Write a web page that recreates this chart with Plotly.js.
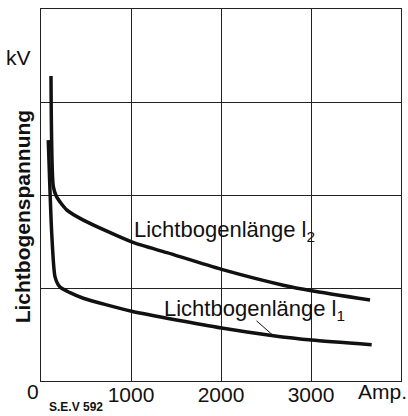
<!DOCTYPE html>
<html>
<head>
<meta charset="utf-8">
<script src="https://cdn.plot.ly/plotly-3.0.1.min.js"></script>
<style>html,body{margin:0;padding:0;background:#fff;}#chart{width:408px;height:416px;}</style>
</head>
<body>
<div id="chart"></div>
<script>
// Current (A) and arc voltage (relative kV units, grid = 1 unit)
const l2Current = [111, 137, 174, 285, 470, 1022, 1400, 2007, 2692, 3007, 3656];
const l2Voltage = [3.28, 2.09, 1.98, 1.84, 1.73, 1.49, 1.38, 1.20, 1.03, 0.97, 0.87];
const l1Current = [81, 119, 156, 211, 322, 470, 1007, 2007, 2563, 3007, 3674];
const l1Voltage = [2.59, 1.59, 1.12, 1.01, 0.95, 0.89, 0.75, 0.57, 0.49, 0.44, 0.39];
const xTickVals = [1000, 2000, 3000];
const xTickText = ["1000", "2000", "3000"];
const labelL2 = "Lichtbogenlänge l<sub>2</sub>";
const labelL1 = "Lichtbogenlänge l<sub>1</sub>";
const yTitle = "Lichtbogenspannung";

const font = "Liberation Sans, Arial, sans-serif";
const traces = [
  {x: l2Current, y: l2Voltage, mode: "lines", line: {color: "#111", width: 3.5, shape: "spline", smoothing: 0.6}, hoverinfo: "skip"},
  {x: l1Current, y: l1Voltage, mode: "lines", line: {color: "#111", width: 3.5, shape: "spline", smoothing: 0.6}, hoverinfo: "skip"}
];
const layout = {
  width: 408, height: 416,
  margin: {l: 41, r: 7, t: 9, b: 35},
  paper_bgcolor: "#fff", plot_bgcolor: "#fff",
  showlegend: false,
  font: {family: font, color: "#111"},
  xaxis: {
    range: [0, 4000], tickvals: xTickVals, ticktext: xTickText,
    showgrid: true, gridcolor: "#222", gridwidth: 1,
    showline: true, linecolor: "#222", linewidth: 1.2, mirror: true,
    ticks: "", zeroline: false, ticklabelstandoff: -5,
    tickfont: {size: 21, family: font, color: "#111"}
  },
  yaxis: {
    range: [0, 4], dtick: 1, showticklabels: false,
    showgrid: true, gridcolor: "#222", gridwidth: 1,
    showline: true, linecolor: "#222", linewidth: 1.2, mirror: true,
    ticks: "", zeroline: false
  },
  annotations: [
    {text: "<b>" + yTitle + "</b>", textangle: -90, x: 0, y: 0.44, xref: "paper", yref: "paper", xanchor: "center", yanchor: "middle", xshift: -19, showarrow: false, font: {size: 21, family: font, color: "#111"}},
    {text: labelL2, x: 2044, y: 1.61, xref: "x", yref: "y", xanchor: "center", yanchor: "middle", showarrow: false, font: {size: 22, family: font, color: "#111"}},
    {text: labelL1, x: 2367, y: 0.76, xref: "x", yref: "y", xanchor: "center", yanchor: "middle", showarrow: false, font: {size: 22, family: font, color: "#111"}},
    {text: " ", x: 2567, y: 0.50, xref: "x", yref: "y", showarrow: true, arrowhead: 0, arrowwidth: 1, arrowcolor: "#111", ax: -17, ay: -15, standoff: 0, font: {size: 1}},
    {text: "kV", x: 0, y: 0.87, xref: "paper", yref: "paper", xanchor: "right", yanchor: "middle", xshift: -8, showarrow: false, font: {size: 21, family: font, color: "#111"}},
    {text: "0", x: 0, y: 0, xref: "paper", yref: "paper", xanchor: "center", yanchor: "top", xshift: -8, yshift: 3, showarrow: false, font: {size: 21, family: font, color: "#111"}},
    {text: "Amp.", x: 1, y: 0, xref: "paper", yref: "paper", xanchor: "right", yanchor: "top", xshift: 8, yshift: 3, showarrow: false, font: {size: 21, family: font, color: "#111"}},
    {text: "<b>S.E.V 592</b>", x: 0, y: 0, xref: "paper", yref: "paper", xanchor: "left", yanchor: "middle", xshift: 6, yshift: -26, showarrow: false, font: {size: 12, family: font, color: "#111"}}
  ]
};
Plotly.newPlot("chart", traces, layout, {staticPlot: true, displayModeBar: false});
</script>
</body>
</html>
